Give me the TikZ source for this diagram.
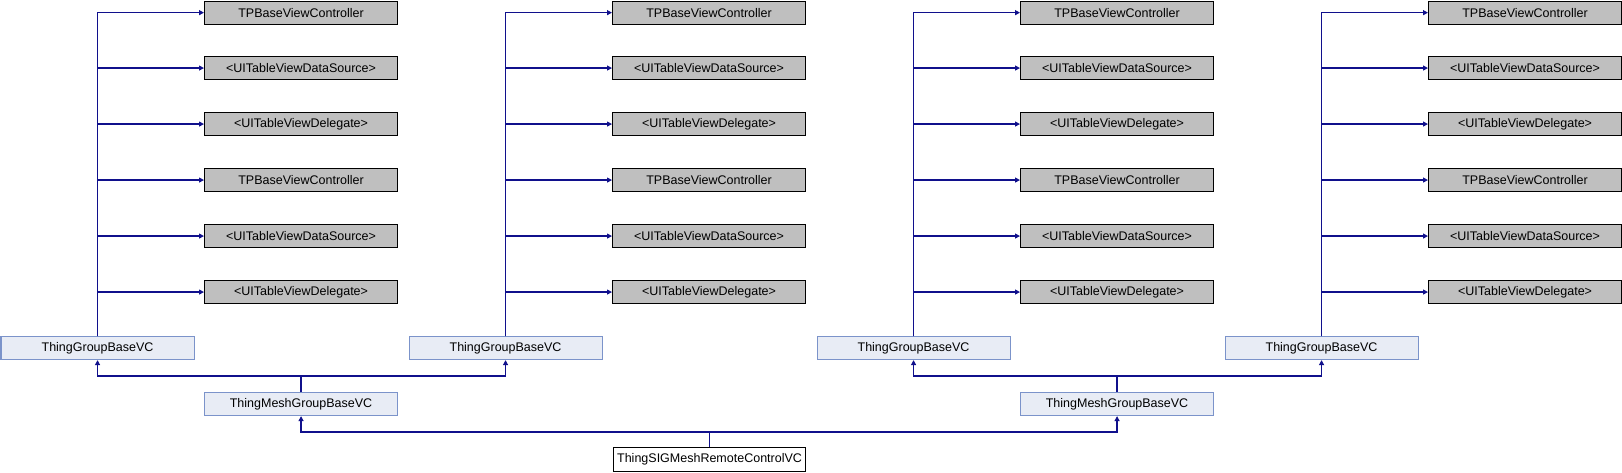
\documentclass[tikz,border=0pt]{standalone}
\usepackage{fontspec}
\setmainfont{Liberation Sans}
\usetikzlibrary{arrows.meta}
\definecolor{edgecol}{HTML}{10108C}
\definecolor{grayfill}{HTML}{BFBFBF}
\definecolor{bluefill}{HTML}{E8ECF5}
\definecolor{blueline}{HTML}{7B93CA}
\begin{document}
\begin{tikzpicture}[x=1pt,y=-1pt,
  box/.style={anchor=north west,minimum width=193pt,minimum height=23pt,inner sep=0pt,line width=1.1pt,font=\fontsize{12.5}{14}\selectfont},
  extbox/.style={box,draw=black,fill=grayfill},
  clsbox/.style={box,draw=blueline,fill=bluefill},
  mainbox/.style={box,draw=black,fill=white,minimum width=192pt,minimum height=24pt},
  line/.style={draw=edgecol,line width=1.2pt},
  edge/.style={line,-{Triangle[length=5pt,width=5pt]}},
  edge2/.style={line,{Triangle[length=5pt,width=5pt]}-{Triangle[length=5pt,width=5pt]}}]
\useasboundingbox (0,0) rectangle (1622,472);
% columns
\foreach \c/\n in {0/1,408/2,816/3,1224/4}{
  \node[clsbox] (g\n) at (\c+0.5,336) {ThingGroupBaseVC};
  \node[extbox] (t\n a) at (\c+204,0.6) {TPBaseViewController};
  \node[extbox] (t\n b) at (\c+204,56) {<UITableViewDataSource>};
  \node[extbox] (t\n c) at (\c+204,112) {<UITableViewDelegate>};
  \node[extbox] (t\n d) at (\c+204,168) {TPBaseViewController};
  \node[extbox] (t\n e) at (\c+204,224) {<UITableViewDataSource>};
  \node[extbox] (t\n f) at (\c+204,280) {<UITableViewDelegate>};
  \foreach \r in {a,b,c,d,e,f}{
    \draw[edge] (g\n.north) |- (t\n\r.west);
  }
}
\node[clsbox] (m1) at (204,392) {ThingMeshGroupBaseVC};
\node[clsbox] (m2) at (1020,392) {ThingMeshGroupBaseVC};
\node[mainbox] (s) at (613,447) {ThingSIGMeshRemoteControlVC};
\coordinate (j1) at (0,376);
\coordinate (j2) at (0,432);
\draw[line] (m1.north) -- (m1.north |- j1);
\draw[edge2] (g1.south) |- (m1.north |- j1) -| (g2.south);
\draw[line] (m2.north) -- (m2.north |- j1);
\draw[edge2] (g3.south) |- (m2.north |- j1) -| (g4.south);
\draw[line] (s.north) -- (s.north |- j2);
\draw[edge2] (m1.south) |- (s.north |- j2) -| (m2.south);
\end{tikzpicture}
\end{document}
